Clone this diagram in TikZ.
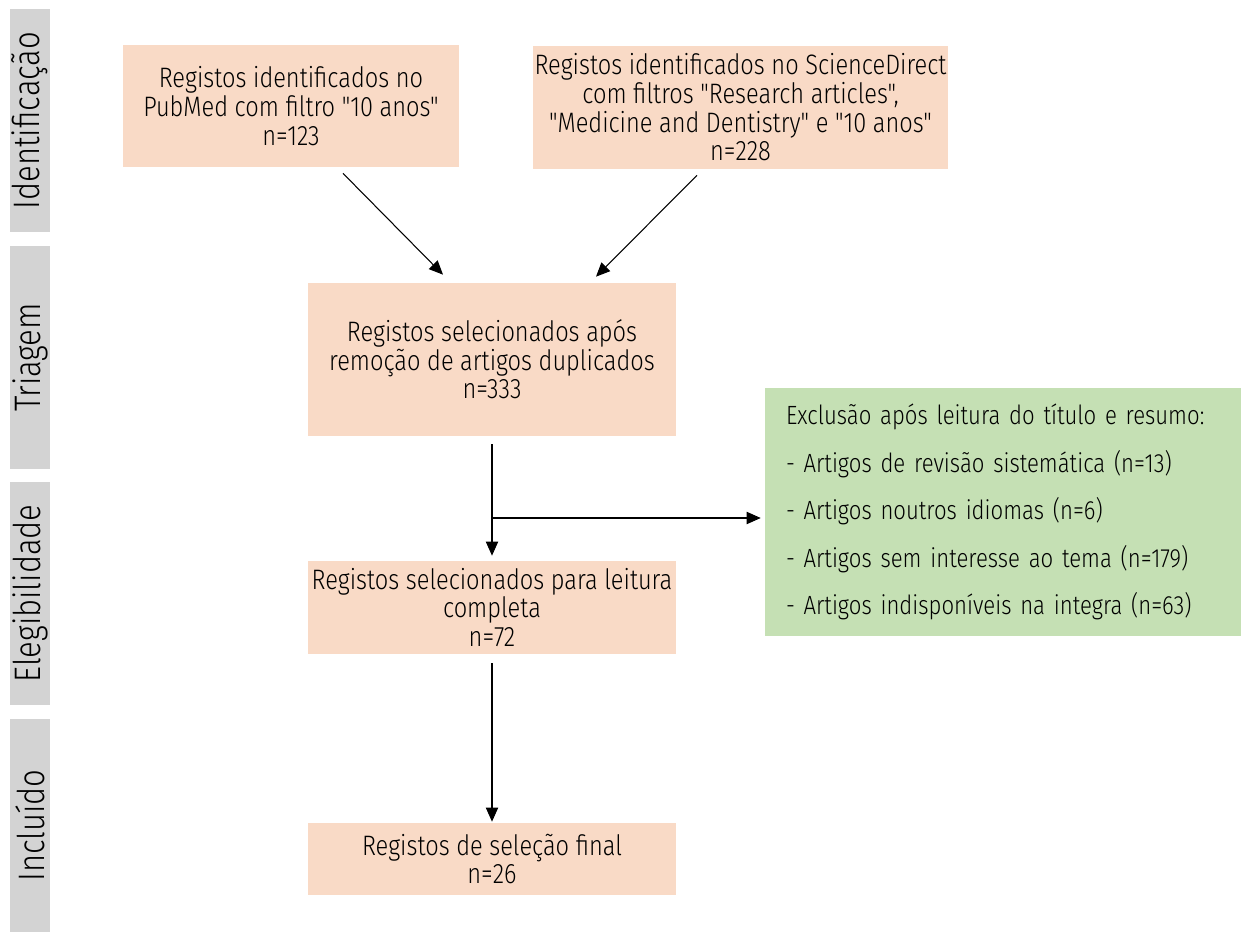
\documentclass[tikz,border=0pt]{standalone}
\usepackage{fontspec}
\setmainfont{Fira Sans Light}[FakeStretch=0.84, Ligatures=TeXOff]
\usetikzlibrary{arrows.meta}
\definecolor{peach}{HTML}{F9DAC6}
\definecolor{leaf}{HTML}{C5E0B4}
\definecolor{bargray}{HTML}{D3D3D3}

\begin{document}
\begin{tikzpicture}[x=0.02cm, y=-0.02cm,
  every node/.style={font=\fontsize{16}{16.3}\selectfont},
  box/.style={fill=peach, align=center, inner sep=0pt},
  phase/.style={fill=bargray, minimum height=0.8cm, inner sep=0pt, rotate=90,
    font=\fontsize{21}{23}\selectfont},
  arr/.style={-{Triangle[length=8pt,width=7pt]}, line width=0.6pt}]
  \useasboundingbox (0,0) rectangle (1243,932);
  % phases on the left
  \node[phase, minimum width=4.46cm] (ident) at (30,120.5) {Identificação};
  \node[phase, minimum width=4.46cm] (triag) at (30,357.5) {Triagem};
  \node[phase, minimum width=4.46cm] (eleg) at (30,593.5) {Elegibilidade};
  \node[phase, minimum width=4.26cm] (incl) at (30,825.5) {Incluído};
  % flow boxes
  \node[box, minimum width=6.72cm, minimum height=2.44cm] (pubmed) at (291,106)
    {Registos identificados no\\PubMed com filtro "10 anos"\\n=123};
  \node[box, minimum width=8.3cm, minimum height=2.46cm] (scidir) at (740.5,107.5)
    {Registos identificados no ScienceDirect\\com filtros "Research articles",\\"Medicine and Dentistry" e "10 anos"\\n=228};
  \node[box, minimum width=7.36cm, minimum height=3.06cm] (sel) at (492,359.5)
    {Registos selecionados após\\remoção de artigos duplicados\\n=333};
  \node[box, minimum width=7.36cm, minimum height=1.86cm] (full) at (492,607.5)
    {Registos selecionados para leitura\\completa\\n=72};
  \node[box, minimum width=7.36cm, minimum height=1.44cm] (final) at (492,859)
    {Registos de seleção final\\n=26};
  \node[fill=leaf, minimum width=9.52cm, minimum height=4.96cm, text width=8.68cm,
    inner xsep=0.42cm, inner ysep=0pt, align=left, font=\fontsize{15}{27}\selectfont] (excl) at (1003,512)
    {Exclusão após leitura do título e resumo:\\- Artigos de revisão sistemática (n=13)\\- Artigos noutros idiomas (n=6)\\- Artigos sem interesse ao tema (n=179)\\- Artigos indisponíveis na integra (n=63)};
  % arrows
  \coordinate (split) at (492,518);
  \draw[arr] ([xshift=1.04cm,yshift=-0.12cm]pubmed.south) -- ([xshift=-0.98cm,yshift=0.16cm]sel.north);
  \draw[arr] ([xshift=-0.87cm,yshift=-0.12cm]scidir.south) -- ([xshift=2.08cm,yshift=0.12cm]sel.north);
  \draw[arr] ([yshift=-0.16cm]sel.south) -- ([yshift=0.1cm]full.north);
  \draw[arr, shorten >=0.08cm] (split) -- (split -| excl.west);
  \draw[arr] ([yshift=-0.18cm]full.south) -- ([yshift=0.02cm]final.north);
\end{tikzpicture}
\end{document}
